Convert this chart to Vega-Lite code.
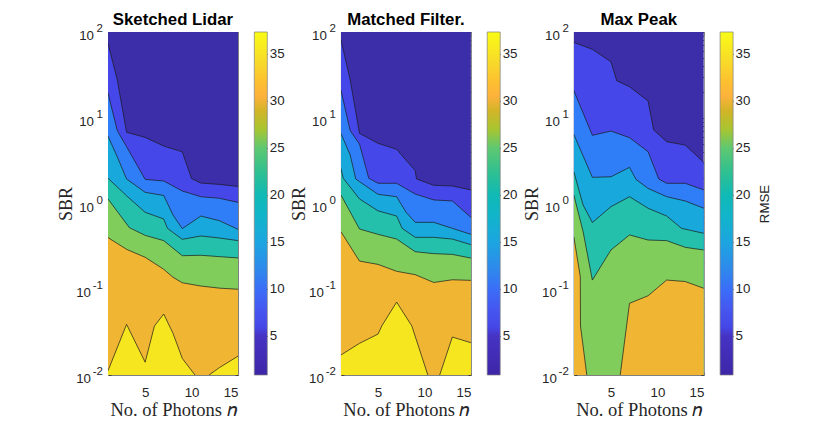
{
  "$schema": "https://vega.github.io/schema/vega-lite/v6.json",
  "background": "white",
  "padding": {"left": 57, "top": 12, "right": 0, "bottom": 0},
  "autosize": "pad",
  "bounds": "flush",
  "spacing": 16.3,
  "config": {
    "view": {"stroke": null},
    "axis": {"labelFont": "Liberation Sans", "labelFontSize": 13.3, "labelColor": "#262626", "domainColor": "#808080", "tickColor": "#404040", "grid": false, "titleFontWeight": "normal"},
    "title": {"font": "Liberation Sans", "fontSize": 16.8, "fontWeight": "bold", "color": "black", "offset": -6}
  },
  "datasets": {
    "contours": [
      {"p":"Sketched Lidar","l":0,"s":"n","x":1,"y":100},
      {"p":"Sketched Lidar","l":0,"s":"n","x":15,"y":100},
      {"p":"Sketched Lidar","l":1,"s":"a","x":1,"y":73.8},
      {"p":"Sketched Lidar","l":1,"s":"a","x":2,"y":27.6},
      {"p":"Sketched Lidar","l":1,"s":"a","x":3,"y":6.76},
      {"p":"Sketched Lidar","l":1,"s":"a","x":5,"y":5.9},
      {"p":"Sketched Lidar","l":1,"s":"a","x":7,"y":4.68},
      {"p":"Sketched Lidar","l":1,"s":"a","x":9,"y":4.0},
      {"p":"Sketched Lidar","l":1,"s":"a","x":10,"y":1.95},
      {"p":"Sketched Lidar","l":1,"s":"a","x":11,"y":1.73},
      {"p":"Sketched Lidar","l":1,"s":"a","x":13,"y":1.67},
      {"p":"Sketched Lidar","l":1,"s":"a","x":15,"y":1.58},
      {"p":"Sketched Lidar","l":2,"s":"a","x":1,"y":19.3},
      {"p":"Sketched Lidar","l":2,"s":"a","x":2,"y":7.08},
      {"p":"Sketched Lidar","l":2,"s":"a","x":3,"y":4.6},
      {"p":"Sketched Lidar","l":2,"s":"a","x":5,"y":1.91},
      {"p":"Sketched Lidar","l":2,"s":"a","x":7,"y":1.83},
      {"p":"Sketched Lidar","l":2,"s":"a","x":9,"y":1.4},
      {"p":"Sketched Lidar","l":2,"s":"a","x":11,"y":1.2},
      {"p":"Sketched Lidar","l":2,"s":"a","x":13,"y":1.15},
      {"p":"Sketched Lidar","l":2,"s":"a","x":15,"y":1.03},
      {"p":"Sketched Lidar","l":3,"s":"a","x":1,"y":6.1},
      {"p":"Sketched Lidar","l":3,"s":"a","x":2,"y":3.5},
      {"p":"Sketched Lidar","l":3,"s":"a","x":3,"y":1.93},
      {"p":"Sketched Lidar","l":3,"s":"a","x":5,"y":1.35},
      {"p":"Sketched Lidar","l":3,"s":"a","x":7,"y":1.24},
      {"p":"Sketched Lidar","l":3,"s":"a","x":8,"y":0.734},
      {"p":"Sketched Lidar","l":3,"s":"a","x":9,"y":0.509},
      {"p":"Sketched Lidar","l":3,"s":"a","x":11,"y":0.714},
      {"p":"Sketched Lidar","l":3,"s":"a","x":13,"y":0.63},
      {"p":"Sketched Lidar","l":3,"s":"a","x":15,"y":0.5},
      {"p":"Sketched Lidar","l":4,"s":"a","x":1,"y":1.97},
      {"p":"Sketched Lidar","l":4,"s":"a","x":3,"y":1.23},
      {"p":"Sketched Lidar","l":4,"s":"a","x":5,"y":0.789},
      {"p":"Sketched Lidar","l":4,"s":"a","x":7,"y":0.66},
      {"p":"Sketched Lidar","l":4,"s":"a","x":7.4,"y":0.513},
      {"p":"Sketched Lidar","l":4,"s":"a","x":9,"y":0.382},
      {"p":"Sketched Lidar","l":4,"s":"a","x":11,"y":0.418},
      {"p":"Sketched Lidar","l":4,"s":"a","x":13,"y":0.396},
      {"p":"Sketched Lidar","l":4,"s":"a","x":15,"y":0.369},
      {"p":"Sketched Lidar","l":5,"s":"a","x":1,"y":1.13},
      {"p":"Sketched Lidar","l":5,"s":"a","x":3.3,"y":0.523},
      {"p":"Sketched Lidar","l":5,"s":"a","x":5,"y":0.425},
      {"p":"Sketched Lidar","l":5,"s":"a","x":7,"y":0.369},
      {"p":"Sketched Lidar","l":5,"s":"a","x":9,"y":0.246},
      {"p":"Sketched Lidar","l":5,"s":"a","x":11,"y":0.249},
      {"p":"Sketched Lidar","l":5,"s":"a","x":13,"y":0.24},
      {"p":"Sketched Lidar","l":5,"s":"a","x":15,"y":0.232},
      {"p":"Sketched Lidar","l":6,"s":"a","x":1,"y":0.4},
      {"p":"Sketched Lidar","l":6,"s":"a","x":3,"y":0.292},
      {"p":"Sketched Lidar","l":6,"s":"a","x":5,"y":0.236},
      {"p":"Sketched Lidar","l":6,"s":"a","x":7,"y":0.171},
      {"p":"Sketched Lidar","l":6,"s":"a","x":8,"y":0.138},
      {"p":"Sketched Lidar","l":6,"s":"a","x":9,"y":0.119},
      {"p":"Sketched Lidar","l":6,"s":"a","x":11,"y":0.109},
      {"p":"Sketched Lidar","l":6,"s":"a","x":13,"y":0.103},
      {"p":"Sketched Lidar","l":6,"s":"a","x":15,"y":0.1},
      {"p":"Sketched Lidar","l":7,"s":"a","x":1,"y":0.0112},
      {"p":"Sketched Lidar","l":7,"s":"a","x":3,"y":0.039},
      {"p":"Sketched Lidar","l":7,"s":"a","x":5,"y":0.0141},
      {"p":"Sketched Lidar","l":7,"s":"a","x":6,"y":0.0373},
      {"p":"Sketched Lidar","l":7,"s":"a","x":7,"y":0.0514},
      {"p":"Sketched Lidar","l":7,"s":"a","x":8,"y":0.0306},
      {"p":"Sketched Lidar","l":7,"s":"a","x":9,"y":0.0156},
      {"p":"Sketched Lidar","l":7,"s":"a","x":10.37,"y":0.01},
      {"p":"Sketched Lidar","l":7,"s":"b","x":11.88,"y":0.01},
      {"p":"Sketched Lidar","l":7,"s":"b","x":13,"y":0.0122},
      {"p":"Sketched Lidar","l":7,"s":"b","x":15,"y":0.0166},

      {"p":"Matched Filter.","l":0,"s":"n","x":1,"y":100},
      {"p":"Matched Filter.","l":0,"s":"n","x":15,"y":100},
      {"p":"Matched Filter.","l":1,"s":"a","x":1,"y":82},
      {"p":"Matched Filter.","l":1,"s":"a","x":2,"y":27.6},
      {"p":"Matched Filter.","l":1,"s":"a","x":3,"y":6.58},
      {"p":"Matched Filter.","l":1,"s":"a","x":5,"y":5.03},
      {"p":"Matched Filter.","l":1,"s":"a","x":7,"y":4.29},
      {"p":"Matched Filter.","l":1,"s":"a","x":8,"y":3.21},
      {"p":"Matched Filter.","l":1,"s":"a","x":9,"y":2.42},
      {"p":"Matched Filter.","l":1,"s":"a","x":9.14,"y":1.93},
      {"p":"Matched Filter.","l":1,"s":"a","x":11,"y":1.63},
      {"p":"Matched Filter.","l":1,"s":"a","x":13,"y":1.6},
      {"p":"Matched Filter.","l":1,"s":"a","x":15,"y":1.44},
      {"p":"Matched Filter.","l":2,"s":"a","x":1,"y":21.1},
      {"p":"Matched Filter.","l":2,"s":"a","x":2,"y":7.08},
      {"p":"Matched Filter.","l":2,"s":"a","x":3,"y":4.94},
      {"p":"Matched Filter.","l":2,"s":"a","x":4,"y":1.97},
      {"p":"Matched Filter.","l":2,"s":"a","x":5,"y":1.72},
      {"p":"Matched Filter.","l":2,"s":"a","x":7,"y":1.72},
      {"p":"Matched Filter.","l":2,"s":"a","x":9,"y":1.29},
      {"p":"Matched Filter.","l":2,"s":"a","x":11,"y":1.1},
      {"p":"Matched Filter.","l":2,"s":"a","x":13,"y":1.07},
      {"p":"Matched Filter.","l":2,"s":"a","x":15,"y":0.69},
      {"p":"Matched Filter.","l":3,"s":"a","x":1,"y":6.58},
      {"p":"Matched Filter.","l":3,"s":"a","x":2,"y":3.68},
      {"p":"Matched Filter.","l":3,"s":"a","x":2.6,"y":1.93},
      {"p":"Matched Filter.","l":3,"s":"a","x":3,"y":1.8},
      {"p":"Matched Filter.","l":3,"s":"a","x":5,"y":1.28},
      {"p":"Matched Filter.","l":3,"s":"a","x":7,"y":1.2},
      {"p":"Matched Filter.","l":3,"s":"a","x":8,"y":0.794},
      {"p":"Matched Filter.","l":3,"s":"a","x":9,"y":0.603},
      {"p":"Matched Filter.","l":3,"s":"a","x":11,"y":0.603},
      {"p":"Matched Filter.","l":3,"s":"a","x":13,"y":0.513},
      {"p":"Matched Filter.","l":3,"s":"a","x":15,"y":0.437},
      {"p":"Matched Filter.","l":4,"s":"a","x":1,"y":2.57},
      {"p":"Matched Filter.","l":4,"s":"a","x":1.25,"y":1.97},
      {"p":"Matched Filter.","l":4,"s":"a","x":3,"y":1.13},
      {"p":"Matched Filter.","l":4,"s":"a","x":5,"y":0.82},
      {"p":"Matched Filter.","l":4,"s":"a","x":7,"y":0.715},
      {"p":"Matched Filter.","l":4,"s":"a","x":7.6,"y":0.513},
      {"p":"Matched Filter.","l":4,"s":"a","x":9,"y":0.403},
      {"p":"Matched Filter.","l":4,"s":"a","x":11,"y":0.403},
      {"p":"Matched Filter.","l":4,"s":"a","x":13,"y":0.385},
      {"p":"Matched Filter.","l":4,"s":"a","x":15,"y":0.331},
      {"p":"Matched Filter.","l":5,"s":"a","x":1,"y":1.26},
      {"p":"Matched Filter.","l":5,"s":"a","x":3,"y":0.504},
      {"p":"Matched Filter.","l":5,"s":"a","x":5,"y":0.437},
      {"p":"Matched Filter.","l":5,"s":"a","x":7,"y":0.385},
      {"p":"Matched Filter.","l":5,"s":"a","x":9,"y":0.274},
      {"p":"Matched Filter.","l":5,"s":"a","x":11,"y":0.26},
      {"p":"Matched Filter.","l":5,"s":"a","x":13,"y":0.255},
      {"p":"Matched Filter.","l":5,"s":"a","x":15,"y":0.231},
      {"p":"Matched Filter.","l":6,"s":"a","x":1,"y":0.47},
      {"p":"Matched Filter.","l":6,"s":"a","x":3,"y":0.213},
      {"p":"Matched Filter.","l":6,"s":"a","x":5,"y":0.195},
      {"p":"Matched Filter.","l":6,"s":"a","x":7,"y":0.162},
      {"p":"Matched Filter.","l":6,"s":"a","x":9,"y":0.148},
      {"p":"Matched Filter.","l":6,"s":"a","x":11,"y":0.12},
      {"p":"Matched Filter.","l":6,"s":"a","x":13,"y":0.129},
      {"p":"Matched Filter.","l":6,"s":"a","x":15,"y":0.127},
      {"p":"Matched Filter.","l":7,"s":"a","x":1,"y":0.0171},
      {"p":"Matched Filter.","l":7,"s":"a","x":3,"y":0.0234},
      {"p":"Matched Filter.","l":7,"s":"a","x":5,"y":0.03},
      {"p":"Matched Filter.","l":7,"s":"a","x":5.4,"y":0.0373},
      {"p":"Matched Filter.","l":7,"s":"a","x":7,"y":0.0708},
      {"p":"Matched Filter.","l":7,"s":"a","x":8.64,"y":0.0373},
      {"p":"Matched Filter.","l":7,"s":"a","x":10.36,"y":0.01},
      {"p":"Matched Filter.","l":7,"s":"b","x":11.64,"y":0.01},
      {"p":"Matched Filter.","l":7,"s":"b","x":13,"y":0.0277},
      {"p":"Matched Filter.","l":7,"s":"b","x":15,"y":0.0238},

      {"p":"Max Peak","l":0,"s":"n","x":1,"y":100},
      {"p":"Max Peak","l":0,"s":"n","x":15,"y":100},
      {"p":"Max Peak","l":1,"s":"a","x":1,"y":75.6},
      {"p":"Max Peak","l":1,"s":"a","x":3,"y":62.8},
      {"p":"Max Peak","l":1,"s":"a","x":5,"y":45},
      {"p":"Max Peak","l":1,"s":"a","x":5.63,"y":27},
      {"p":"Max Peak","l":1,"s":"a","x":7,"y":23},
      {"p":"Max Peak","l":1,"s":"a","x":9,"y":15.7},
      {"p":"Max Peak","l":1,"s":"a","x":9.6,"y":7.2},
      {"p":"Max Peak","l":1,"s":"a","x":11,"y":5.26},
      {"p":"Max Peak","l":1,"s":"a","x":13,"y":4.8},
      {"p":"Max Peak","l":1,"s":"a","x":15,"y":3.02},
      {"p":"Max Peak","l":2,"s":"a","x":1,"y":20.7},
      {"p":"Max Peak","l":2,"s":"a","x":3,"y":6.24},
      {"p":"Max Peak","l":2,"s":"a","x":5,"y":7},
      {"p":"Max Peak","l":2,"s":"a","x":7,"y":5.86},
      {"p":"Max Peak","l":2,"s":"a","x":9,"y":4.02},
      {"p":"Max Peak","l":2,"s":"a","x":10.15,"y":1.93},
      {"p":"Max Peak","l":2,"s":"a","x":11,"y":1.72},
      {"p":"Max Peak","l":2,"s":"a","x":13,"y":1.72},
      {"p":"Max Peak","l":2,"s":"a","x":15,"y":1.44},
      {"p":"Max Peak","l":3,"s":"a","x":1,"y":6.4},
      {"p":"Max Peak","l":3,"s":"a","x":3,"y":2.02},
      {"p":"Max Peak","l":3,"s":"a","x":5,"y":2.05},
      {"p":"Max Peak","l":3,"s":"a","x":7,"y":2.64},
      {"p":"Max Peak","l":3,"s":"a","x":7.7,"y":1.91},
      {"p":"Max Peak","l":3,"s":"a","x":9,"y":1.5},
      {"p":"Max Peak","l":3,"s":"a","x":11,"y":1.2},
      {"p":"Max Peak","l":3,"s":"a","x":13,"y":1.07},
      {"p":"Max Peak","l":3,"s":"a","x":15,"y":0.88},
      {"p":"Max Peak","l":4,"s":"a","x":1,"y":2.35},
      {"p":"Max Peak","l":4,"s":"a","x":2,"y":0.96},
      {"p":"Max Peak","l":4,"s":"a","x":3,"y":0.6},
      {"p":"Max Peak","l":4,"s":"a","x":5,"y":0.918},
      {"p":"Max Peak","l":4,"s":"a","x":7,"y":1.2},
      {"p":"Max Peak","l":4,"s":"a","x":9,"y":0.88},
      {"p":"Max Peak","l":4,"s":"a","x":11,"y":0.714},
      {"p":"Max Peak","l":4,"s":"a","x":12.6,"y":0.513},
      {"p":"Max Peak","l":4,"s":"a","x":15,"y":0.449},
      {"p":"Max Peak","l":5,"s":"a","x":1,"y":1.26},
      {"p":"Max Peak","l":5,"s":"a","x":2,"y":0.47},
      {"p":"Max Peak","l":5,"s":"a","x":3,"y":0.128},
      {"p":"Max Peak","l":5,"s":"a","x":5,"y":0.287},
      {"p":"Max Peak","l":5,"s":"a","x":7,"y":0.43},
      {"p":"Max Peak","l":5,"s":"a","x":9,"y":0.375},
      {"p":"Max Peak","l":5,"s":"a","x":11,"y":0.369},
      {"p":"Max Peak","l":5,"s":"a","x":13,"y":0.308},
      {"p":"Max Peak","l":5,"s":"a","x":15,"y":0.287},
      {"p":"Max Peak","l":6,"s":"a","x":1,"y":0.41},
      {"p":"Max Peak","l":6,"s":"a","x":1.7,"y":0.14},
      {"p":"Max Peak","l":6,"s":"a","x":1.72,"y":0.0373},
      {"p":"Max Peak","l":6,"s":"a","x":2.4,"y":0.01},
      {"p":"Max Peak","l":6,"s":"b","x":6,"y":0.01},
      {"p":"Max Peak","l":6,"s":"b","x":7,"y":0.0685},
      {"p":"Max Peak","l":6,"s":"b","x":9,"y":0.084},
      {"p":"Max Peak","l":6,"s":"b","x":11,"y":0.128},
      {"p":"Max Peak","l":6,"s":"b","x":13,"y":0.123},
      {"p":"Max Peak","l":6,"s":"b","x":15,"y":0.1026}
    ],
    "colorbar": [{"lo": 0.85, "hi": 37.3}],
    "decades": [
      {"t":100,"base":"10","exp":"2","neg":false},
      {"t":10,"base":"10","exp":"1","neg":false},
      {"t":1,"base":"10","exp":"0","neg":false},
      {"t":0.1,"base":"10","exp":"-1","neg":true},
      {"t":0.01,"base":"10","exp":"-2","neg":true}
    ]
  },
  "hconcat": [
    {
      "width": 130, "height": 343,
      "title": "Sketched Lidar",
      "resolve": {"axis": {"x": "independent", "y": "independent"}},
      "layer": [
        {
          "data": {"name": "contours"},
          "transform": [{"filter": "datum.p == 'Sketched Lidar'"}],
          "mark": {"type": "area", "clip": true},
          "encoding": {
            "x": {"field": "x", "type": "quantitative", "scale": {"domain": [1, 15], "nice": false, "zero": false}, "axis": {"values": [5, 10, 15], "title": "No. of Photons 𝑛", "titleFont": "Liberation Serif", "titleFontSize": 18.5, "titleColor": "#262626", "tickSize": -3, "labelPadding": 13, "titlePadding": 2}},
            "y": {"field": "y", "type": "quantitative", "scale": {"type": "log", "domain": [0.01, 100], "nice": false}, "axis": {"values": [0.01,0.02,0.03,0.04,0.05,0.06,0.07,0.08,0.09,0.1,0.2,0.3,0.4,0.5,0.6,0.7,0.8,0.9,1,2,3,4,5,6,7,8,9,10,20,30,40,50,60,70,80,90,100], "labels": false, "title": "SBR", "titleFont": "Liberation Serif", "titleFontSize": 18, "titleColor": "#262626", "tickSize": {"condition": {"test": "indexof([0.01,0.1,1,10,100],datum.value)>=0", "value": -3}, "value": -1.5}, "titlePadding": 32}},
            "y2": {"datum": 0.01},
            "color": {"field": "l", "type": "ordinal", "legend": null, "scale": {"domain": [0,1,2,3,4,5,6,7], "range": ["#3c2da9","#4547e8","#2f7ef7","#19a8dc","#25c0ac","#80cd5c","#f0b532","#f5e61f"]}}
          }
        },
        {
          "data": {"name": "contours"},
          "transform": [{"filter": "datum.p == 'Sketched Lidar' && datum.l > 0"}],
          "mark": {"type": "line", "clip": true, "color": "#1a1a1a", "strokeWidth": 0.7},
          "encoding": {
            "x": {"field": "x", "type": "quantitative", "axis": null},
            "y": {"field": "y", "type": "quantitative", "axis": null},
            "detail": [{"field": "l"}, {"field": "s"}]
          }
        },
        {
          "data": {"name": "decades"},
          "mark": {"type": "point", "opacity": 0},
          "encoding": {
            "x": {"datum": 1, "type": "quantitative", "axis": {"orient": "top", "values": [5, 10, 15], "labels": false, "title": null, "tickSize": -3}},
            "y": {"field": "t", "type": "quantitative", "axis": {"orient": "right", "values": [0.01,0.02,0.03,0.04,0.05,0.06,0.07,0.08,0.09,0.1,0.2,0.3,0.4,0.5,0.6,0.7,0.8,0.9,1,2,3,4,5,6,7,8,9,10,20,30,40,50,60,70,80,90,100], "labels": false, "title": null, "tickSize": {"condition": {"test": "indexof([0.01,0.1,1,10,100],datum.value)>=0", "value": -3}, "value": -1.5}}}
          }
        },
        {
          "data": {"name": "decades"},
          "transform": [{"filter": "!datum.neg"}],
          "mark": {"type": "text", "align": "right", "baseline": "middle", "dx": -14, "dy": 4, "font": "Liberation Sans", "fontSize": 13.3, "color": "#262626"},
          "encoding": {
            "x": {"datum": 1, "type": "quantitative", "axis": null},
            "y": {"field": "t", "type": "quantitative", "axis": null},
            "text": {"field": "base"}
          }
        },
        {
          "data": {"name": "decades"},
          "transform": [{"filter": "datum.neg"}],
          "mark": {"type": "text", "align": "right", "baseline": "middle", "dx": -17, "dy": 4, "font": "Liberation Sans", "fontSize": 13.3, "color": "#262626"},
          "encoding": {
            "x": {"datum": 1, "type": "quantitative", "axis": null},
            "y": {"field": "t", "type": "quantitative", "axis": null},
            "text": {"field": "base"}
          }
        },
        {
          "data": {"name": "decades"},
          "mark": {"type": "text", "align": "right", "baseline": "middle", "dx": -5, "dy": -3, "font": "Liberation Sans", "fontSize": 11.5, "color": "#262626"},
          "encoding": {
            "x": {"datum": 1, "type": "quantitative", "axis": null},
            "y": {"field": "t", "type": "quantitative", "axis": null},
            "text": {"field": "exp"}
          }
        }
      ]
    },
    {
      "width": 13, "height": 343,
      "data": {"name": "colorbar"},
      "mark": {"type": "rect", "stroke": "#808080", "strokeWidth": 0.7, "fill": {"gradient": "linear", "x1": 0, "y1": 1, "x2": 0, "y2": 0, "stops": [{"offset":0,"color":"#3e26a8"},{"offset":0.114,"color":"#4533c4"},{"offset":0.14,"color":"#4547e8"},{"offset":0.196,"color":"#4558f0"},{"offset":0.25,"color":"#3a6ef8"},{"offset":0.306,"color":"#2f88ec"},{"offset":0.388,"color":"#1ca5e0"},{"offset":0.47,"color":"#10b5c8"},{"offset":0.525,"color":"#10bab5"},{"offset":0.594,"color":"#30c090"},{"offset":0.663,"color":"#60c870"},{"offset":0.717,"color":"#a8c530"},{"offset":0.772,"color":"#d4b428"},{"offset":0.813,"color":"#fdb23c"},{"offset":0.855,"color":"#fdc030"},{"offset":0.91,"color":"#f8d92a"},{"offset":1,"color":"#f9fb15"}]}},
      "encoding": {
        "y": {"field": "lo", "type": "quantitative", "scale": {"domain": [0.85, 37.3], "nice": false, "zero": false}, "axis": {"orient": "right", "values": [5,10,15,20,25,30,35], "title": null, "tickSize": -3, "domain": false, "labelPadding": 5}},
        "y2": {"field": "hi"}
      }
    },
    {
      "width": 40.5, "height": 343,
      "data": {"values": []},
      "mark": {"type": "point"},
      "encoding": {}
    },
    {
      "width": 130, "height": 343,
      "title": "Matched Filter.",
      "resolve": {"axis": {"x": "independent", "y": "independent"}},
      "layer": [
        {
          "data": {"name": "contours"},
          "transform": [{"filter": "datum.p == 'Matched Filter.'"}],
          "mark": {"type": "area", "clip": true},
          "encoding": {
            "x": {"field": "x", "type": "quantitative", "scale": {"domain": [1, 15], "nice": false, "zero": false}, "axis": {"values": [5, 10, 15], "title": "No. of Photons 𝑛", "titleFont": "Liberation Serif", "titleFontSize": 18.5, "titleColor": "#262626", "tickSize": -3, "labelPadding": 13, "titlePadding": 2}},
            "y": {"field": "y", "type": "quantitative", "scale": {"type": "log", "domain": [0.01, 100], "nice": false}, "axis": {"values": [0.01,0.02,0.03,0.04,0.05,0.06,0.07,0.08,0.09,0.1,0.2,0.3,0.4,0.5,0.6,0.7,0.8,0.9,1,2,3,4,5,6,7,8,9,10,20,30,40,50,60,70,80,90,100], "labels": false, "title": "SBR", "titleFont": "Liberation Serif", "titleFontSize": 18, "titleColor": "#262626", "tickSize": {"condition": {"test": "indexof([0.01,0.1,1,10,100],datum.value)>=0", "value": -3}, "value": -1.5}, "titlePadding": 32}},
            "y2": {"datum": 0.01},
            "color": {"field": "l", "type": "ordinal", "legend": null, "scale": {"domain": [0,1,2,3,4,5,6,7], "range": ["#3c2da9","#4547e8","#2f7ef7","#19a8dc","#25c0ac","#80cd5c","#f0b532","#f5e61f"]}}
          }
        },
        {
          "data": {"name": "contours"},
          "transform": [{"filter": "datum.p == 'Matched Filter.' && datum.l > 0"}],
          "mark": {"type": "line", "clip": true, "color": "#1a1a1a", "strokeWidth": 0.7},
          "encoding": {
            "x": {"field": "x", "type": "quantitative", "axis": null},
            "y": {"field": "y", "type": "quantitative", "axis": null},
            "detail": [{"field": "l"}, {"field": "s"}]
          }
        },
        {
          "data": {"name": "decades"},
          "mark": {"type": "point", "opacity": 0},
          "encoding": {
            "x": {"datum": 1, "type": "quantitative", "axis": {"orient": "top", "values": [5, 10, 15], "labels": false, "title": null, "tickSize": -3}},
            "y": {"field": "t", "type": "quantitative", "axis": {"orient": "right", "values": [0.01,0.02,0.03,0.04,0.05,0.06,0.07,0.08,0.09,0.1,0.2,0.3,0.4,0.5,0.6,0.7,0.8,0.9,1,2,3,4,5,6,7,8,9,10,20,30,40,50,60,70,80,90,100], "labels": false, "title": null, "tickSize": {"condition": {"test": "indexof([0.01,0.1,1,10,100],datum.value)>=0", "value": -3}, "value": -1.5}}}
          }
        },
        {
          "data": {"name": "decades"},
          "transform": [{"filter": "!datum.neg"}],
          "mark": {"type": "text", "align": "right", "baseline": "middle", "dx": -14, "dy": 4, "font": "Liberation Sans", "fontSize": 13.3, "color": "#262626"},
          "encoding": {
            "x": {"datum": 1, "type": "quantitative", "axis": null},
            "y": {"field": "t", "type": "quantitative", "axis": null},
            "text": {"field": "base"}
          }
        },
        {
          "data": {"name": "decades"},
          "transform": [{"filter": "datum.neg"}],
          "mark": {"type": "text", "align": "right", "baseline": "middle", "dx": -17, "dy": 4, "font": "Liberation Sans", "fontSize": 13.3, "color": "#262626"},
          "encoding": {
            "x": {"datum": 1, "type": "quantitative", "axis": null},
            "y": {"field": "t", "type": "quantitative", "axis": null},
            "text": {"field": "base"}
          }
        },
        {
          "data": {"name": "decades"},
          "mark": {"type": "text", "align": "right", "baseline": "middle", "dx": -5, "dy": -3, "font": "Liberation Sans", "fontSize": 11.5, "color": "#262626"},
          "encoding": {
            "x": {"datum": 1, "type": "quantitative", "axis": null},
            "y": {"field": "t", "type": "quantitative", "axis": null},
            "text": {"field": "exp"}
          }
        }
      ]
    },
    {
      "width": 13, "height": 343,
      "data": {"name": "colorbar"},
      "mark": {"type": "rect", "stroke": "#808080", "strokeWidth": 0.7, "fill": {"gradient": "linear", "x1": 0, "y1": 1, "x2": 0, "y2": 0, "stops": [{"offset":0,"color":"#3e26a8"},{"offset":0.114,"color":"#4533c4"},{"offset":0.14,"color":"#4547e8"},{"offset":0.196,"color":"#4558f0"},{"offset":0.25,"color":"#3a6ef8"},{"offset":0.306,"color":"#2f88ec"},{"offset":0.388,"color":"#1ca5e0"},{"offset":0.47,"color":"#10b5c8"},{"offset":0.525,"color":"#10bab5"},{"offset":0.594,"color":"#30c090"},{"offset":0.663,"color":"#60c870"},{"offset":0.717,"color":"#a8c530"},{"offset":0.772,"color":"#d4b428"},{"offset":0.813,"color":"#fdb23c"},{"offset":0.855,"color":"#fdc030"},{"offset":0.91,"color":"#f8d92a"},{"offset":1,"color":"#f9fb15"}]}},
      "encoding": {
        "y": {"field": "lo", "type": "quantitative", "scale": {"domain": [0.85, 37.3], "nice": false, "zero": false}, "axis": {"orient": "right", "values": [5,10,15,20,25,30,35], "title": null, "tickSize": -3, "domain": false, "labelPadding": 5}},
        "y2": {"field": "hi"}
      }
    },
    {
      "width": 40.5, "height": 343,
      "data": {"values": []},
      "mark": {"type": "point"},
      "encoding": {}
    },
    {
      "width": 130, "height": 343,
      "title": "Max Peak",
      "resolve": {"axis": {"x": "independent", "y": "independent"}},
      "layer": [
        {
          "data": {"name": "contours"},
          "transform": [{"filter": "datum.p == 'Max Peak'"}],
          "mark": {"type": "area", "clip": true},
          "encoding": {
            "x": {"field": "x", "type": "quantitative", "scale": {"domain": [1, 15], "nice": false, "zero": false}, "axis": {"values": [5, 10, 15], "title": "No. of Photons 𝑛", "titleFont": "Liberation Serif", "titleFontSize": 18.5, "titleColor": "#262626", "tickSize": -3, "labelPadding": 13, "titlePadding": 2}},
            "y": {"field": "y", "type": "quantitative", "scale": {"type": "log", "domain": [0.01, 100], "nice": false}, "axis": {"values": [0.01,0.02,0.03,0.04,0.05,0.06,0.07,0.08,0.09,0.1,0.2,0.3,0.4,0.5,0.6,0.7,0.8,0.9,1,2,3,4,5,6,7,8,9,10,20,30,40,50,60,70,80,90,100], "labels": false, "title": "SBR", "titleFont": "Liberation Serif", "titleFontSize": 18, "titleColor": "#262626", "tickSize": {"condition": {"test": "indexof([0.01,0.1,1,10,100],datum.value)>=0", "value": -3}, "value": -1.5}, "titlePadding": 32}},
            "y2": {"datum": 0.01},
            "color": {"field": "l", "type": "ordinal", "legend": null, "scale": {"domain": [0,1,2,3,4,5,6,7], "range": ["#3c2da9","#4547e8","#2f7ef7","#19a8dc","#25c0ac","#80cd5c","#f0b532","#f5e61f"]}}
          }
        },
        {
          "data": {"name": "contours"},
          "transform": [{"filter": "datum.p == 'Max Peak' && datum.l > 0"}],
          "mark": {"type": "line", "clip": true, "color": "#1a1a1a", "strokeWidth": 0.7},
          "encoding": {
            "x": {"field": "x", "type": "quantitative", "axis": null},
            "y": {"field": "y", "type": "quantitative", "axis": null},
            "detail": [{"field": "l"}, {"field": "s"}]
          }
        },
        {
          "data": {"name": "decades"},
          "mark": {"type": "point", "opacity": 0},
          "encoding": {
            "x": {"datum": 1, "type": "quantitative", "axis": {"orient": "top", "values": [5, 10, 15], "labels": false, "title": null, "tickSize": -3}},
            "y": {"field": "t", "type": "quantitative", "axis": {"orient": "right", "values": [0.01,0.02,0.03,0.04,0.05,0.06,0.07,0.08,0.09,0.1,0.2,0.3,0.4,0.5,0.6,0.7,0.8,0.9,1,2,3,4,5,6,7,8,9,10,20,30,40,50,60,70,80,90,100], "labels": false, "title": null, "tickSize": {"condition": {"test": "indexof([0.01,0.1,1,10,100],datum.value)>=0", "value": -3}, "value": -1.5}}}
          }
        },
        {
          "data": {"name": "decades"},
          "transform": [{"filter": "!datum.neg"}],
          "mark": {"type": "text", "align": "right", "baseline": "middle", "dx": -14, "dy": 4, "font": "Liberation Sans", "fontSize": 13.3, "color": "#262626"},
          "encoding": {
            "x": {"datum": 1, "type": "quantitative", "axis": null},
            "y": {"field": "t", "type": "quantitative", "axis": null},
            "text": {"field": "base"}
          }
        },
        {
          "data": {"name": "decades"},
          "transform": [{"filter": "datum.neg"}],
          "mark": {"type": "text", "align": "right", "baseline": "middle", "dx": -17, "dy": 4, "font": "Liberation Sans", "fontSize": 13.3, "color": "#262626"},
          "encoding": {
            "x": {"datum": 1, "type": "quantitative", "axis": null},
            "y": {"field": "t", "type": "quantitative", "axis": null},
            "text": {"field": "base"}
          }
        },
        {
          "data": {"name": "decades"},
          "mark": {"type": "text", "align": "right", "baseline": "middle", "dx": -5, "dy": -3, "font": "Liberation Sans", "fontSize": 11.5, "color": "#262626"},
          "encoding": {
            "x": {"datum": 1, "type": "quantitative", "axis": null},
            "y": {"field": "t", "type": "quantitative", "axis": null},
            "text": {"field": "exp"}
          }
        }
      ]
    },
    {
      "width": 13, "height": 343,
      "data": {"name": "colorbar"},
      "mark": {"type": "rect", "stroke": "#808080", "strokeWidth": 0.7, "fill": {"gradient": "linear", "x1": 0, "y1": 1, "x2": 0, "y2": 0, "stops": [{"offset":0,"color":"#3e26a8"},{"offset":0.114,"color":"#4533c4"},{"offset":0.14,"color":"#4547e8"},{"offset":0.196,"color":"#4558f0"},{"offset":0.25,"color":"#3a6ef8"},{"offset":0.306,"color":"#2f88ec"},{"offset":0.388,"color":"#1ca5e0"},{"offset":0.47,"color":"#10b5c8"},{"offset":0.525,"color":"#10bab5"},{"offset":0.594,"color":"#30c090"},{"offset":0.663,"color":"#60c870"},{"offset":0.717,"color":"#a8c530"},{"offset":0.772,"color":"#d4b428"},{"offset":0.813,"color":"#fdb23c"},{"offset":0.855,"color":"#fdc030"},{"offset":0.91,"color":"#f8d92a"},{"offset":1,"color":"#f9fb15"}]}},
      "encoding": {
        "y": {"field": "lo", "type": "quantitative", "scale": {"domain": [0.85, 37.3], "nice": false, "zero": false}, "axis": {"orient": "right", "values": [5,10,15,20,25,30,35], "title": "RMSE", "titleFont": "Liberation Sans", "titleFontSize": 13.3, "titleColor": "#262626", "titleAngle": 270, "titlePadding": 22, "tickSize": -3, "domain": false, "labelPadding": 5}},
        "y2": {"field": "hi"}
      }
    }
  ]
}
